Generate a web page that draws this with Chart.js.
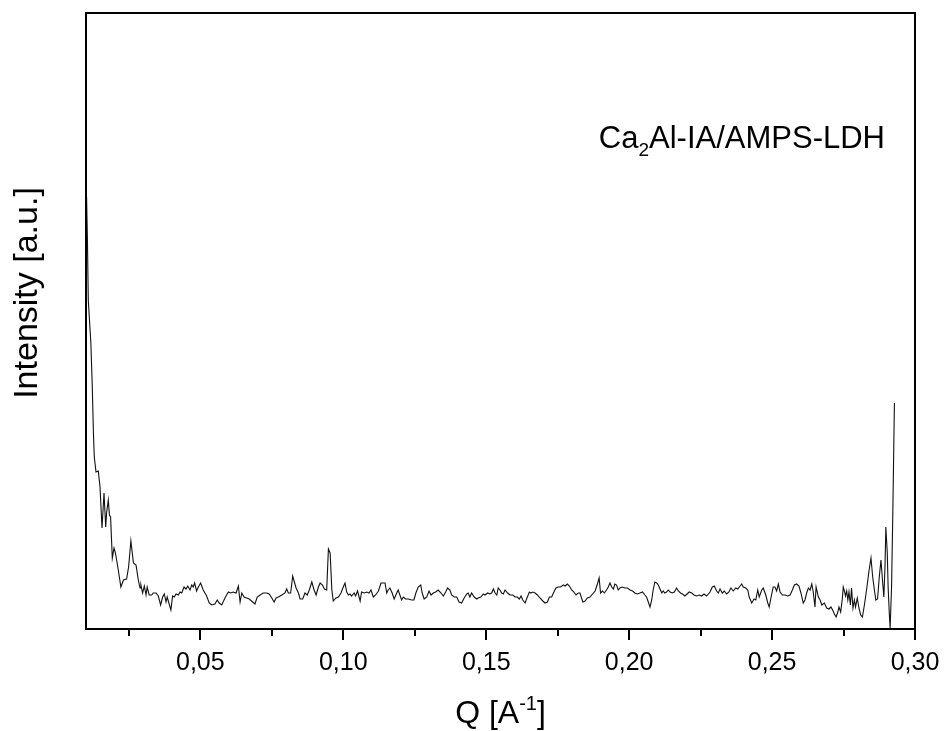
<!DOCTYPE html>
<html>
<head>
<meta charset="utf-8">
<title>SAXS Ca2Al-IA/AMPS-LDH</title>
<script src="https://cdn.jsdelivr.net/npm/chart.js@4.4.0/dist/chart.umd.min.js"></script>
<style>
  html, body { margin: 0; padding: 0; background: #fff; }
  #saxs { display: block; }
</style>
</head>
<body>
<canvas id="saxs" width="945" height="731"></canvas>
<script>
// scattering vector Q (1/A)
const qValues = [
  0.0102, 0.0105, 0.0108, 0.0117, 0.0122, 0.0126, 0.0129, 0.0135, 0.0143, 0.0149,
  0.0156, 0.0163, 0.0169, 0.0172, 0.0178, 0.0182, 0.0186, 0.0192, 0.0198, 0.0203,
  0.0213, 0.0222, 0.0231, 0.0242, 0.0249, 0.0257, 0.0266, 0.0275, 0.0283, 0.0289,
  0.0292, 0.0298, 0.0304, 0.0310, 0.0314, 0.0321, 0.0330, 0.0335, 0.0345, 0.0353,
  0.0361, 0.0368, 0.0374, 0.0380, 0.0384, 0.0391, 0.0397, 0.0403, 0.0409, 0.0415,
  0.0423, 0.0429, 0.0435, 0.0443, 0.0450, 0.0456, 0.0464, 0.0470, 0.0475, 0.0480,
  0.0487, 0.0493, 0.0501, 0.0510, 0.0522, 0.0531, 0.0540, 0.0551, 0.0559, 0.0566,
  0.0575, 0.0586, 0.0598, 0.0606, 0.0615, 0.0625, 0.0633, 0.0639, 0.0645, 0.0653,
  0.0662, 0.0671, 0.0683, 0.0691, 0.0699, 0.0709, 0.0720, 0.0732, 0.0741, 0.0750,
  0.0758, 0.0765, 0.0773, 0.0785, 0.0796, 0.0802, 0.0808, 0.0816, 0.0823, 0.0829,
  0.0835, 0.0843, 0.0849, 0.0858, 0.0866, 0.0874, 0.0881, 0.0890, 0.0898, 0.0905,
  0.0913, 0.0919, 0.0927, 0.0934, 0.0942, 0.0948, 0.0954, 0.0960, 0.0965, 0.0974,
  0.0983, 0.0992, 0.1000, 0.1006, 0.1012, 0.1018, 0.1024, 0.1029, 0.1038, 0.1043,
  0.1050, 0.1059, 0.1064, 0.1074, 0.1082, 0.1090, 0.1097, 0.1105, 0.1113, 0.1123,
  0.1132, 0.1140, 0.1146, 0.1152, 0.1157, 0.1163, 0.1171, 0.1178, 0.1187, 0.1192,
  0.1198, 0.1204, 0.1210, 0.1218, 0.1227, 0.1239, 0.1247, 0.1254, 0.1262, 0.1271,
  0.1276, 0.1283, 0.1292, 0.1300, 0.1307, 0.1315, 0.1323, 0.1332, 0.1342, 0.1350,
  0.1358, 0.1365, 0.1373, 0.1379, 0.1388, 0.1397, 0.1405, 0.1414, 0.1423, 0.1432,
  0.1437, 0.1443, 0.1449, 0.1458, 0.1467, 0.1472, 0.1481, 0.1490, 0.1496, 0.1505,
  0.1513, 0.1519, 0.1525, 0.1531, 0.1537, 0.1542, 0.1548, 0.1554, 0.1560, 0.1566,
  0.1575, 0.1583, 0.1593, 0.1601, 0.1609, 0.1616, 0.1622, 0.1628, 0.1636, 0.1644,
  0.1651, 0.1656, 0.1663, 0.1671, 0.1679, 0.1688, 0.1698, 0.1706, 0.1714, 0.1721,
  0.1729, 0.1735, 0.1744, 0.1752, 0.1760, 0.1770, 0.1776, 0.1784, 0.1791, 0.1799,
  0.1807, 0.1814, 0.1822, 0.1828, 0.1838, 0.1846, 0.1854, 0.1863, 0.1872, 0.1881,
  0.1889, 0.1895, 0.1900, 0.1907, 0.1913, 0.1921, 0.1927, 0.1933, 0.1939, 0.1945,
  0.1950, 0.1956, 0.1962, 0.1968, 0.1976, 0.1985, 0.1994, 0.2003, 0.2012, 0.2020,
  0.2029, 0.2038, 0.2047, 0.2055, 0.2061, 0.2067, 0.2073, 0.2079, 0.2084, 0.2090,
  0.2096, 0.2102, 0.2108, 0.2114, 0.2119, 0.2125, 0.2131, 0.2137, 0.2143, 0.2151,
  0.2158, 0.2166, 0.2172, 0.2180, 0.2187, 0.2195, 0.2203, 0.2210, 0.2219, 0.2227,
  0.2236, 0.2245, 0.2254, 0.2262, 0.2271, 0.2277, 0.2283, 0.2291, 0.2298, 0.2306,
  0.2312, 0.2318, 0.2326, 0.2333, 0.2341, 0.2349, 0.2356, 0.2364, 0.2373, 0.2380,
  0.2388, 0.2394, 0.2399, 0.2408, 0.2415, 0.2420, 0.2429, 0.2437, 0.2443, 0.2450,
  0.2455, 0.2464, 0.2469, 0.2478, 0.2485, 0.2490, 0.2496, 0.2504, 0.2510, 0.2516,
  0.2522, 0.2528, 0.2536, 0.2545, 0.2555, 0.2563, 0.2571, 0.2578, 0.2586, 0.2594,
  0.2601, 0.2609, 0.2615, 0.2621, 0.2627, 0.2633, 0.2639, 0.2644, 0.2650, 0.2654,
  0.2662, 0.2668, 0.2674, 0.2683, 0.2691, 0.2699, 0.2706, 0.2712, 0.2718, 0.2724,
  0.2730, 0.2734, 0.2740, 0.2746, 0.2749, 0.2753, 0.2757, 0.2761, 0.2765, 0.2769,
  0.2774, 0.2778, 0.2783, 0.2788, 0.2792, 0.2798, 0.2804, 0.2810, 0.2816, 0.2823,
  0.2831, 0.2839, 0.2846, 0.2852, 0.2858, 0.2863, 0.2869, 0.2875, 0.2881, 0.2887,
  0.2891, 0.2895, 0.2898, 0.2903, 0.2906, 0.2910, 0.2913, 0.2918, 0.2922, 0.2928
];

// intensity (a.u.)
const intensity = [
  432, 389, 329, 286, 242, 196, 172, 157, 158, 142,
  101, 136, 102, 116, 129, 114, 112, 71, 81, 76,
  59, 42, 49, 50, 62, 88, 66, 64, 49, 41,
  44, 36, 43, 34, 42, 34, 34, 36, 36, 33,
  24, 32, 35, 27, 32, 25, 19, 33, 32, 35,
  34, 37, 36, 42, 40, 43, 39, 44, 42, 46,
  38, 42, 46, 39, 33, 26, 24, 25, 29, 26,
  24, 31, 37, 36, 37, 36, 43, 27, 36, 32,
  31, 30, 27, 25, 32, 34, 36, 36, 35, 31,
  27, 31, 32, 34, 36, 40, 36, 36, 53, 47,
  41, 36, 30, 30, 36, 34, 39, 47, 39, 34,
  42, 46, 44, 40, 39, 80, 76, 39, 28, 31,
  32, 36, 42, 46, 37, 34, 35, 33, 36, 33,
  38, 28, 37, 36, 37, 36, 39, 32, 34, 38,
  46, 46, 46, 36, 39, 41, 36, 30, 36, 39,
  34, 29, 32, 30, 30, 29, 29, 36, 42, 44,
  36, 30, 32, 38, 34, 36, 37, 39, 36, 33,
  37, 41, 39, 34, 32, 32, 27, 26, 31, 35,
  36, 32, 36, 32, 30, 31, 32, 35, 34, 36,
  35, 36, 40, 36, 34, 41, 39, 36, 35, 39,
  36, 34, 34, 32, 32, 30, 33, 29, 26, 32,
  37, 36, 37, 36, 34, 31, 28, 26, 27, 32,
  32, 36, 41, 42, 42, 44, 43, 45, 43, 39,
  37, 34, 36, 36, 27, 28, 31, 32, 35, 38,
  45, 51, 36, 38, 36, 39, 42, 46, 42, 40,
  45, 44, 39, 41, 42, 41, 41, 39, 38, 36,
  35, 36, 37, 34, 32, 27, 22, 29, 39, 47,
  46, 44, 40, 36, 38, 36, 37, 39, 37, 36,
  37, 41, 38, 36, 35, 33, 35, 37, 36, 34,
  33, 34, 33, 35, 33, 35, 37, 42, 43, 38,
  36, 40, 36, 38, 35, 37, 41, 38, 41, 40,
  43, 45, 42, 41, 39, 32, 26, 30, 29, 39,
  32, 39, 41, 34, 26, 22, 31, 42, 42, 38,
  45, 37, 34, 34, 33, 34, 39, 44, 45, 43,
  36, 26, 29, 36, 41, 39, 45, 37, 22, 42,
  32, 29, 24, 26, 21, 20, 22, 19, 15, 12,
  17, 22, 17, 31, 42, 38, 33, 38, 29, 37,
  24, 41, 21, 29, 22, 31, 21, 14, 12, 24,
  40, 58, 71, 52, 39, 29, 30, 52, 69, 46,
  32, 62, 102, 76, 42, 16, 1, 42, 109, 226
];

const majorTicks = [0.05, 0.10, 0.15, 0.20, 0.25, 0.30];
const minorTicks = [0.025, 0.075, 0.125, 0.175, 0.225, 0.275];

const FONT = '"Liberation Sans", Arial, Helvetica, sans-serif';

// draws text made of normal / raised / lowered pieces
function drawRich(ctx, parts, x, y, size, align) {
  const small = Math.round(size * 0.62);
  const widths = parts.map(p => {
    ctx.font = (p.shift ? small : size) + 'px ' + FONT;
    return ctx.measureText(p.text).width;
  });
  const total = widths.reduce((a, b) => a + b, 0);
  let cx = align === 'center' ? x - total / 2 : (align === 'right' ? x - total : x);
  ctx.textAlign = 'left';
  ctx.textBaseline = 'alphabetic';
  parts.forEach((p, i) => {
    ctx.font = (p.shift ? small : size) + 'px ' + FONT;
    let dy = 0;
    if (p.shift === 'sup') dy = -size * 0.42;
    if (p.shift === 'sub') dy = size * 0.26;
    ctx.fillText(p.text, cx, y + dy);
    cx += widths[i];
  });
}

const framePlugin = {
  id: 'frame',
  afterDraw(chart) {
    const { ctx, chartArea: a, scales: { x } } = chart;
    ctx.save();
    ctx.strokeStyle = '#000';
    ctx.fillStyle = '#000';
    ctx.lineWidth = 2;
    ctx.strokeRect(a.left, a.top, a.right - a.left, a.bottom - a.top);

    // outward tick marks on the bottom axis
    ctx.beginPath();
    majorTicks.forEach(v => {
      const px = Math.round(x.getPixelForValue(v));
      ctx.moveTo(px, a.bottom);
      ctx.lineTo(px, a.bottom + 11);
    });
    minorTicks.forEach(v => {
      const px = Math.round(x.getPixelForValue(v));
      ctx.moveTo(px, a.bottom);
      ctx.lineTo(px, a.bottom + 7);
    });
    ctx.stroke();

    // axis titles
    ctx.save();
    ctx.translate(28, a.top + 280);
    ctx.rotate(-Math.PI / 2);
    ctx.font = '34px ' + FONT;
    ctx.textAlign = 'center';
    ctx.textBaseline = 'middle';
    ctx.fillText('Intensity [a.u.]', 0, 0);
    ctx.restore();

    drawRich(ctx, [
      { text: 'Q [A' }, { text: '-1', shift: 'sup' }, { text: ']' }
    ], (a.left + a.right) / 2, a.bottom + 94, 32, 'center');

    // sample label
    drawRich(ctx, [
      { text: 'Ca' }, { text: '2', shift: 'sub' }, { text: 'Al-IA/AMPS-LDH' }
    ], a.right - 30, a.top + 135, 31, 'right');
    ctx.restore();
  }
};

new Chart(document.getElementById('saxs'), {
  type: 'line',
  data: {
    datasets: [{
      data: qValues.map((q, i) => ({ x: q, y: intensity[i] })),
      borderColor: '#111',
      borderWidth: 1.1,
      pointRadius: 0,
      tension: 0,
      fill: false
    }]
  },
  options: {
    responsive: false,
    animation: false,
    layout: { padding: { top: 13, right: 30, left: 0, bottom: 0 } },
    plugins: {
      legend: { display: false },
      tooltip: { enabled: false }
    },
    scales: {
      x: {
        type: 'linear',
        min: 0.01,
        max: 0.30,
        grid: { display: false, drawTicks: false },
        border: { display: false },
        afterBuildTicks: scale => { scale.ticks = majorTicks.map(v => ({ value: v })); },
        afterFit: scale => {
          scale.height = 102;
          scale.paddingLeft = 0;
          scale.paddingRight = 0;
        },
        ticks: {
          autoSkip: false,
          maxRotation: 0,
          padding: 19,
          color: '#000',
          font: { family: FONT, size: 25 },
          callback: v => v.toFixed(2).replace('.', ',')
        }
      },
      y: {
        min: 0,
        max: 616,
        grid: { display: false, drawTicks: false },
        border: { display: false },
        ticks: { display: false },
        afterFit: scale => { scale.width = 86; }
      }
    }
  },
  plugins: [framePlugin]
});
</script>
</body>
</html>
